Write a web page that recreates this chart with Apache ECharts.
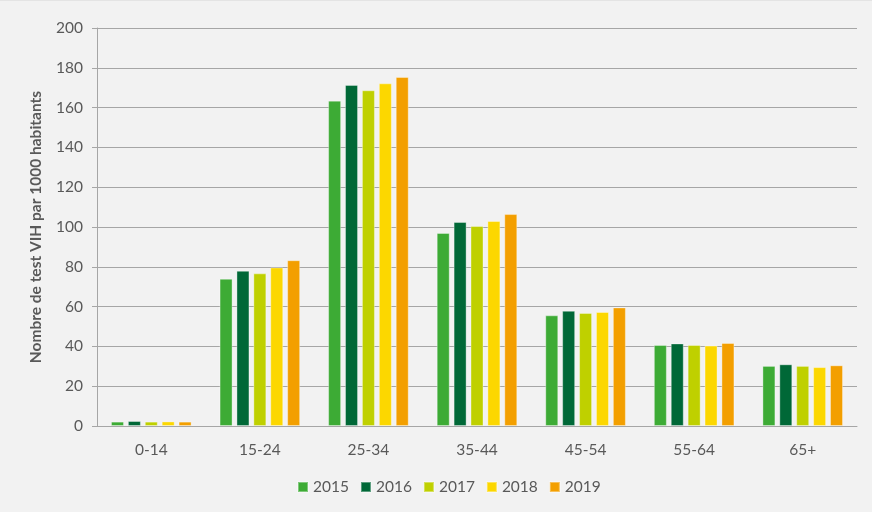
<!DOCTYPE html>
<html>
<head>
<meta charset="utf-8">
<script src="https://cdn.jsdelivr.net/npm/echarts@6/dist/echarts.min.js"></script>
<style>
  html, body { margin: 0; padding: 0; background: #f2f2f2; }
  #chart { width: 872px; height: 512px; box-sizing: border-box; border-top: 1px solid #e4e4e4; }
</style>
</head>
<body>
<div id="chart"></div>
<script>
// tranches d'age
var categories = ['0-14', '15-24', '25-34', '35-44', '45-54', '55-64', '65+'];
var years = ['2015', '2016', '2017', '2018', '2019'];
var colors = ['#3dab35', '#006837', '#bfd000', '#fcd700', '#f39f00'];

var v2015 = [2.2, 74.0, 163.5, 97.0, 55.6, 40.7, 30.2];
var v2016 = [2.5, 78.0, 171.4, 102.5, 57.9, 41.5, 31.0];
var v2017 = [2.2, 76.7, 168.7, 100.5, 56.8, 40.7, 30.2];
var v2018 = [2.3, 79.7, 172.2, 103.0, 57.3, 40.4, 29.6];
var v2019 = [2.2, 83.3, 175.4, 106.5, 59.6, 41.7, 30.5];
var values = [v2015, v2016, v2017, v2018, v2019];

var font = 'Lato, "Open Sans", sans-serif';
var chart = echarts.init(document.getElementById('chart'));

var series = years.map(function (y, i) {
    return {
        name: y,
        type: 'bar',
        data: values[i],
        barWidth: 13,
        barGap: '30%',
        itemStyle: {
            color: colors[i],
            borderColor: 'rgba(255,255,255,0.35)',
            borderWidth: 1
        }
    };
});

chart.setOption({
    backgroundColor: '#f2f2f2',
    animation: false,
    textStyle: { fontFamily: font },
    grid: { left: 97, right: 15, top: 27, bottom: 86 },
    legend: {
        data: years,
        bottom: 12,
        left: 292,
        itemWidth: 10,
        itemHeight: 10,
        itemGap: 11,
        icon: 'rect',
        textStyle: { color: '#595959', fontSize: 15.5, fontFamily: font }
    },
    xAxis: {
        type: 'category',
        data: categories,
        axisLine: { lineStyle: { color: '#a6a6a6', width: 1 } },
        axisTick: { show: false },
        axisLabel: { color: '#595959', fontSize: 15.5, margin: 16 }
    },
    yAxis: {
        type: 'value',
        min: 0,
        max: 200,
        interval: 20,
        name: 'Nombre de test VIH par 1000 habitants',
        nameLocation: 'middle',
        nameGap: 53,
        nameTextStyle: { color: '#595959', fontSize: 15.5, fontWeight: 'bold' },
        axisLine: { show: true, lineStyle: { color: '#a6a6a6' } },
        axisTick: { show: true, length: 5, lineStyle: { color: '#a6a6a6' } },
        axisLabel: { color: '#595959', fontSize: 15.5, margin: 14 },
        splitLine: { lineStyle: { color: '#a6a6a6', width: 1 } }
    },
    series: series
});
</script>
</body>
</html>
